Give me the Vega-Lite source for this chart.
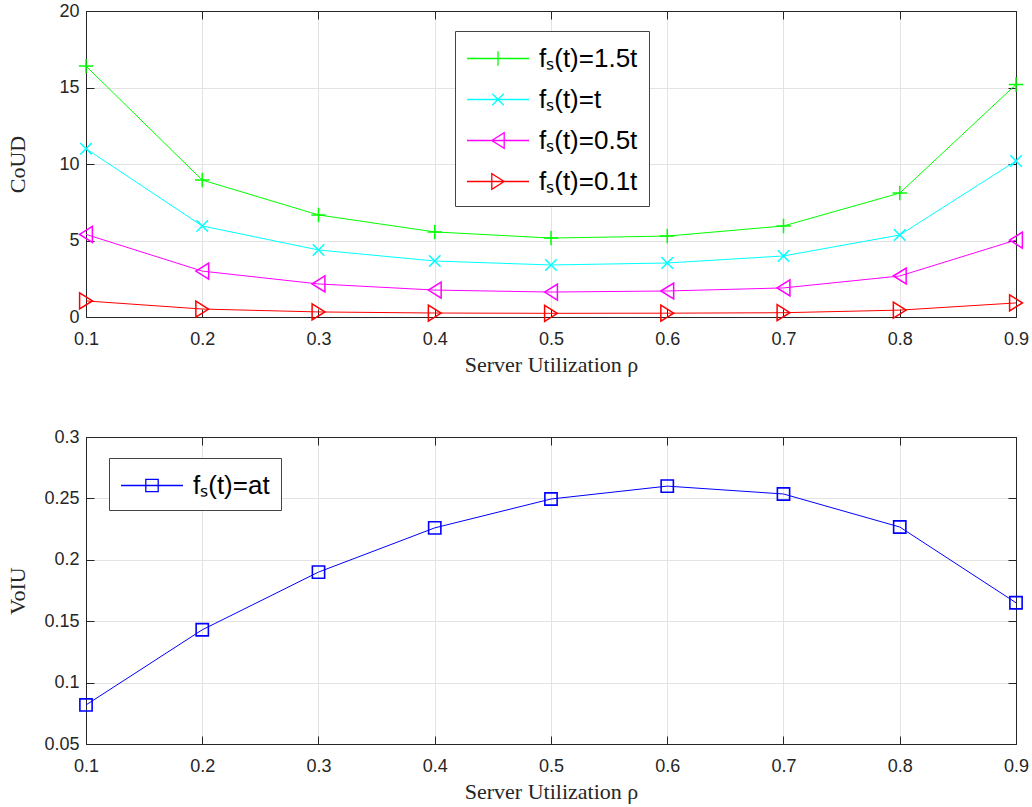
{
  "$schema": "https://vega.github.io/schema/vega-lite/v6.json",
  "background": "white",
  "padding": {"left": 5, "top": 1, "right": 10, "bottom": 5},
  "bounds": "flush",
  "spacing": 120,
  "resolve": {"scale": {"color": "independent"}, "legend": {"color": "independent"}},
  "datasets": {
    "top": [
      {"rho": 0.1, "series": "fₛ(t)=1.5t", "v": 16.4},
      {"rho": 0.2, "series": "fₛ(t)=1.5t", "v": 8.95},
      {"rho": 0.3, "series": "fₛ(t)=1.5t", "v": 6.67},
      {"rho": 0.4, "series": "fₛ(t)=1.5t", "v": 5.56},
      {"rho": 0.5, "series": "fₛ(t)=1.5t", "v": 5.16},
      {"rho": 0.6, "series": "fₛ(t)=1.5t", "v": 5.29},
      {"rho": 0.7, "series": "fₛ(t)=1.5t", "v": 5.95},
      {"rho": 0.8, "series": "fₛ(t)=1.5t", "v": 8.1},
      {"rho": 0.9, "series": "fₛ(t)=1.5t", "v": 15.2},
      {"rho": 0.1, "series": "fₛ(t)=t", "v": 11.0},
      {"rho": 0.2, "series": "fₛ(t)=t", "v": 5.95},
      {"rho": 0.3, "series": "fₛ(t)=t", "v": 4.38},
      {"rho": 0.4, "series": "fₛ(t)=t", "v": 3.66},
      {"rho": 0.5, "series": "fₛ(t)=t", "v": 3.4},
      {"rho": 0.6, "series": "fₛ(t)=t", "v": 3.53},
      {"rho": 0.7, "series": "fₛ(t)=t", "v": 3.99},
      {"rho": 0.8, "series": "fₛ(t)=t", "v": 5.36},
      {"rho": 0.9, "series": "fₛ(t)=t", "v": 10.2},
      {"rho": 0.1, "series": "fₛ(t)=0.5t", "v": 5.4},
      {"rho": 0.2, "series": "fₛ(t)=0.5t", "v": 3.0},
      {"rho": 0.3, "series": "fₛ(t)=0.5t", "v": 2.16},
      {"rho": 0.4, "series": "fₛ(t)=0.5t", "v": 1.76},
      {"rho": 0.5, "series": "fₛ(t)=0.5t", "v": 1.63},
      {"rho": 0.6, "series": "fₛ(t)=0.5t", "v": 1.7},
      {"rho": 0.7, "series": "fₛ(t)=0.5t", "v": 1.9},
      {"rho": 0.8, "series": "fₛ(t)=0.5t", "v": 2.68},
      {"rho": 0.9, "series": "fₛ(t)=0.5t", "v": 5.03},
      {"rho": 0.1, "series": "fₛ(t)=0.1t", "v": 1.05},
      {"rho": 0.2, "series": "fₛ(t)=0.1t", "v": 0.52},
      {"rho": 0.3, "series": "fₛ(t)=0.1t", "v": 0.33},
      {"rho": 0.4, "series": "fₛ(t)=0.1t", "v": 0.26},
      {"rho": 0.5, "series": "fₛ(t)=0.1t", "v": 0.24},
      {"rho": 0.6, "series": "fₛ(t)=0.1t", "v": 0.25},
      {"rho": 0.7, "series": "fₛ(t)=0.1t", "v": 0.28},
      {"rho": 0.8, "series": "fₛ(t)=0.1t", "v": 0.45},
      {"rho": 0.9, "series": "fₛ(t)=0.1t", "v": 0.92}
    ],
    "bottom": [
      {"rho": 0.1, "series": "fₛ(t)=at", "v": 0.0818},
      {"rho": 0.2, "series": "fₛ(t)=at", "v": 0.143},
      {"rho": 0.3, "series": "fₛ(t)=at", "v": 0.190},
      {"rho": 0.4, "series": "fₛ(t)=at", "v": 0.226},
      {"rho": 0.5, "series": "fₛ(t)=at", "v": 0.2495},
      {"rho": 0.6, "series": "fₛ(t)=at", "v": 0.26},
      {"rho": 0.7, "series": "fₛ(t)=at", "v": 0.2536},
      {"rho": 0.8, "series": "fₛ(t)=at", "v": 0.2267},
      {"rho": 0.9, "series": "fₛ(t)=at", "v": 0.165}
    ]
  },
  "vconcat": [
    {
      "width": 930,
      "height": 306,
      "data": {"name": "top"},
      "layer": [
        {
          "mark": {"type": "line", "strokeWidth": 1},
          "encoding": {
            "x": {"field": "rho", "type": "quantitative", "scale": {"domain": [0.1, 0.9], "nice": false},
                  "axis": {"values": [0.1, 0.2, 0.3, 0.4, 0.5, 0.6, 0.7, 0.8, 0.9], "format": "~g", "title": "Server Utilization ρ"}},
            "y": {"field": "v", "type": "quantitative", "scale": {"domain": [0, 20], "nice": false},
                  "axis": {"values": [0, 5, 10, 15, 20], "title": "CoUD", "titleX": -57}},
            "color": {"field": "series", "type": "nominal",
                      "scale": {"domain": ["fₛ(t)=1.5t", "fₛ(t)=t", "fₛ(t)=0.5t", "fₛ(t)=0.1t"], "range": ["#00ff00", "#00ffff", "#ff00ff", "#ff0000"]},
                      "legend": {
                        "orient": "none", "legendX": 369, "legendY": 20, "title": null,
                        "symbolSize": 961, "rowPadding": 11, "labelOffset": 40, "padding": 11,
                        "encode": {"symbols": {"update": {
                          "shape": {"signal": "datum.value === 'fₛ(t)=1.5t' ? 'M-1,0L3,0M1,-0.47L1,0.47' : datum.value === 'fₛ(t)=t' ? 'M-1,0L3,0M0.63,-0.37L1.37,0.37M0.63,0.37L1.37,-0.37' : datum.value === 'fₛ(t)=0.5t' ? 'M-1,0L3,0M0.6,0L1.4,-0.5L1.4,0.5Z' : 'M-1,0L3,0M1.4,0L0.6,-0.5L0.6,0.5Z'"},
                          "fill": {"value": "transparent"},
                          "stroke": {"signal": "datum.value === 'fₛ(t)=1.5t' ? '#00ff00' : datum.value === 'fₛ(t)=t' ? '#00ffff' : datum.value === 'fₛ(t)=0.5t' ? '#ff00ff' : '#ff0000'"},
                          "strokeWidth": {"value": 1.3},
                          "opacity": {"value": 1}
                        }}}
                      }}
          }
        },
        {
          "mark": {"type": "point", "filled": false, "strokeWidth": 1.5, "size": 256, "opacity": 1},
          "encoding": {
            "x": {"field": "rho", "type": "quantitative", "axis": null},
            "y": {"field": "v", "type": "quantitative", "axis": null},
            "color": {"field": "series", "type": "nominal"},
            "shape": {"field": "series", "type": "nominal", "legend": null,
                      "scale": {"domain": ["fₛ(t)=1.5t", "fₛ(t)=t", "fₛ(t)=0.5t", "fₛ(t)=0.1t"],
                                "range": ["M-0.9,0L0.9,0M0,-0.9L0,0.9", "M-0.72,-0.72L0.72,0.72M-0.72,0.72L0.72,-0.72", "M-0.8,0L0.8,-1L0.8,1Z", "M0.8,0L-0.8,-1L-0.8,1Z"]}}
          }
        },
        {
          "mark": {"type": "point", "opacity": 0},
          "encoding": {
            "x": {"field": "rho", "type": "quantitative", "axis": {"orient": "top", "values": [0.1, 0.2, 0.3, 0.4, 0.5, 0.6, 0.7, 0.8, 0.9], "labels": false, "grid": false, "title": null}},
            "y": {"field": "v", "type": "quantitative", "axis": {"orient": "right", "values": [0, 5, 10, 15, 20], "labels": false, "grid": false, "title": null}}
          }
        }
      ],
      "resolve": {"axis": {"x": "independent", "y": "independent"}}
    },
    {
      "width": 930,
      "height": 307,
      "data": {"name": "bottom"},
      "layer": [
        {
          "mark": {"type": "line", "strokeWidth": 1},
          "encoding": {
            "x": {"field": "rho", "type": "quantitative", "scale": {"domain": [0.1, 0.9], "nice": false},
                  "axis": {"values": [0.1, 0.2, 0.3, 0.4, 0.5, 0.6, 0.7, 0.8, 0.9], "format": "~g", "title": "Server Utilization ρ"}},
            "y": {"field": "v", "type": "quantitative", "scale": {"domain": [0.05, 0.3], "nice": false, "zero": false},
                  "axis": {"values": [0.05, 0.1, 0.15, 0.2, 0.25, 0.3], "format": "~g", "title": "VoIU", "titleX": -57}},
            "color": {"field": "series", "type": "nominal",
                      "scale": {"domain": ["fₛ(t)=at"], "range": ["#0000ff"]},
                      "legend": {
                        "orient": "none", "legendX": 23, "legendY": 21, "title": null,
                        "symbolSize": 961, "labelOffset": 40, "padding": 11,
                        "encode": {"symbols": {"update": {
                          "shape": {"value": "M-1,0L3,0M0.6,-0.4L1.4,-0.4L1.4,0.4L0.6,0.4Z"},
                          "fill": {"value": "transparent"},
                          "stroke": {"value": "#0000ff"},
                          "strokeWidth": {"value": 1.3},
                          "opacity": {"value": 1}
                        }}}
                      }}
          }
        },
        {
          "mark": {"type": "point", "shape": "square", "filled": false, "strokeWidth": 1.6, "size": 150, "opacity": 1},
          "encoding": {
            "x": {"field": "rho", "type": "quantitative", "axis": null},
            "y": {"field": "v", "type": "quantitative", "axis": null},
            "color": {"field": "series", "type": "nominal"}
          }
        },
        {
          "mark": {"type": "point", "opacity": 0},
          "encoding": {
            "x": {"field": "rho", "type": "quantitative", "axis": {"orient": "top", "values": [0.1, 0.2, 0.3, 0.4, 0.5, 0.6, 0.7, 0.8, 0.9], "labels": false, "grid": false, "title": null}},
            "y": {"field": "v", "type": "quantitative", "axis": {"orient": "right", "values": [0.05, 0.1, 0.15, 0.2, 0.25, 0.3], "labels": false, "grid": false, "title": null}}
          }
        }
      ],
      "resolve": {"axis": {"x": "independent", "y": "independent"}}
    }
  ],
  "config": {
    "view": {"stroke": "#262626", "strokeWidth": 1},
    "axis": {
      "labelFont": "Liberation Sans", "labelFontSize": 18, "labelColor": "#262626", "labelFlush": false,
      "titleFont": "Liberation Serif", "titleFontSize": 22, "titleFontWeight": "normal", "titleColor": "#262626",
      "domainColor": "#262626", "tickColor": "#262626", "tickSize": -8,
      "gridColor": "#e3e3e3", "gridWidth": 1
    },
    "axisX": {"labelPadding": 21, "titlePadding": 6},
    "axisY": {"labelPadding": 15},
    "legend": {
      "labelFont": "Liberation Sans", "labelFontSize": 26, "labelColor": "#000000",
      "strokeColor": "#444444", "fillColor": "white"
    }
  }
}
